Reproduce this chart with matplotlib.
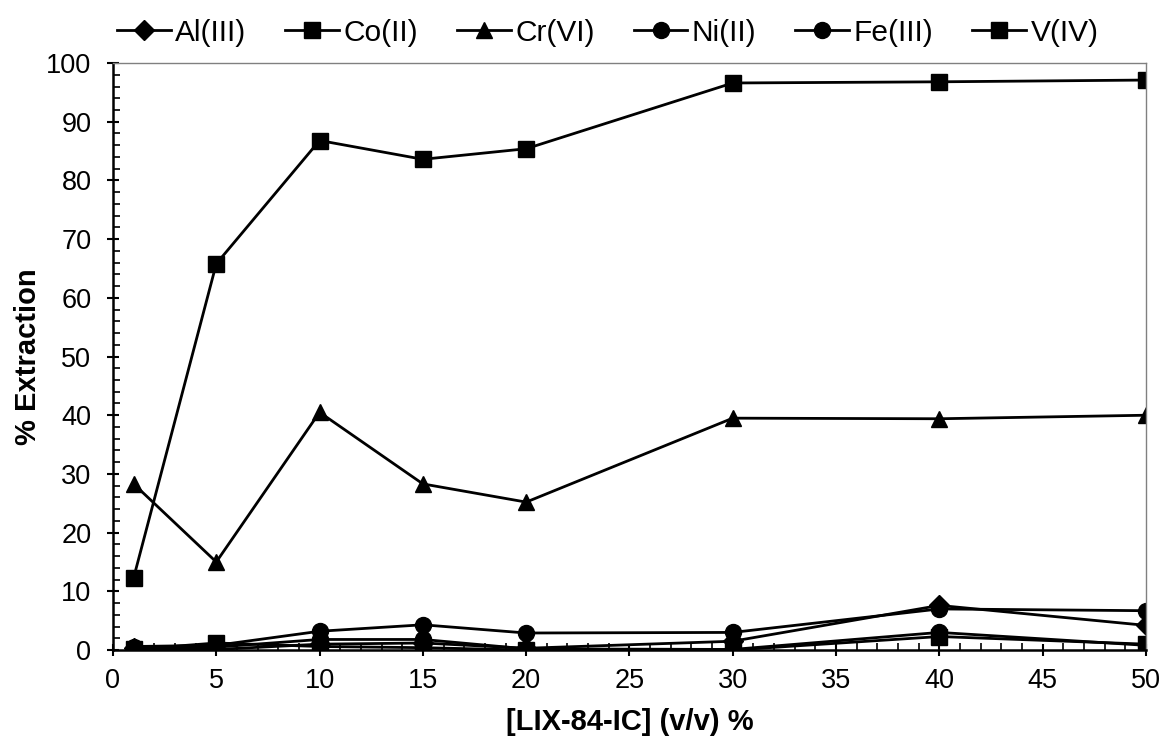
import matplotlib
matplotlib.use("Agg")
import matplotlib.pyplot as plt
from matplotlib.ticker import MultipleLocator

plt.rcParams['font.family'] = ['Liberation Sans', 'DejaVu Sans']

# Datos
conc = [1, 5, 10, 15, 20, 30, 40, 50]
al_iii = [0.3, 0.1, 1.0, 1.2, 0.3, 1.5, 7.6, 4.2]
co_ii = [0.1, 1.2, 0.6, 0.4, 0.0, 0.0, 2.3, 1.0]
cr_vi = [28.3, 15.0, 40.5, 28.3, 25.2, 39.5, 39.4, 40.0]
ni_ii = [0.6, 0.8, 3.2, 4.3, 2.9, 3.0, 7.0, 6.7]
fe_iii = [0.3, 0.5, 1.8, 1.8, 0.2, 0.1, 3.0, 0.8]
v_iv = [12.3, 65.8, 86.8, 83.6, 85.4, 96.6, 96.8, 97.1]

series = [
    ("Al(III)", al_iii, "D"),
    ("Co(II)", co_ii, "s"),
    ("Cr(VI)", cr_vi, "^"),
    ("Ni(II)", ni_ii, "o"),
    ("Fe(III)", fe_iii, "o"),
    ("V(IV)", v_iv, "s"),
]
msizes = {"D": 10, "s": 11, "^": 11.5, "o": 11.5}

fig = plt.figure(figsize=(11.6, 7.38), dpi=100)
ax = fig.add_axes([0.0974, 0.1192, 0.8905, 0.7954])

for name, vals, mk in series:
    ax.plot(conc, vals, color="black", lw=2.0, marker=mk, ms=msizes[mk], label=name)

ax.set_xlim(0, 50)
ax.set_ylim(0, 100)
ax.xaxis.set_major_locator(MultipleLocator(5))
ax.xaxis.set_minor_locator(MultipleLocator(1))
ax.yaxis.set_major_locator(MultipleLocator(10))
ax.yaxis.set_minor_locator(MultipleLocator(2))
ax.tick_params(which="major", direction="inout", length=9, width=1.5, labelsize=19.5)
ax.tick_params(which="minor", direction="in", length=5, width=1.2)
ax.tick_params(axis="x", which="major", pad=8.5)
ax.tick_params(axis="y", which="major", pad=11)

for s in ["left", "bottom"]:
    ax.spines[s].set_linewidth(1.8)
for s in ["top", "right"]:
    ax.spines[s].set_color("#808080")
    ax.spines[s].set_linewidth(1.0)

ax.set_xlabel("[LIX-84-IC] (v/v) %", fontsize=21, fontweight="bold", labelpad=10)
ax.set_ylabel("% Extraction", fontsize=21, fontweight="bold", labelpad=3)

ax.legend(loc="lower center", bbox_to_anchor=(0.479, 1.0), ncol=6, frameon=False,
          fontsize=21.5, handlelength=1.8, handletextpad=0.15, columnspacing=1.3,
          borderaxespad=0.15)

fig.savefig("out.png", dpi=100)
